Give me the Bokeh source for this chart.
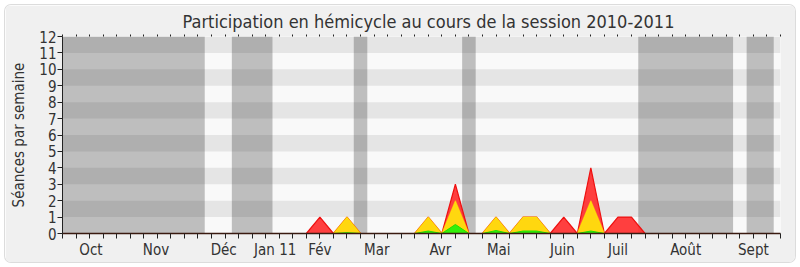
from bokeh.plotting import figure
from bokeh.models import Range1d, FixedTicker, LinearAxis, Title
from bokeh.embed import file_html
from bokeh.resources import INLINE

# ---- data ----
weeks = list(range(0, 53))
n = len(weeks)
presences = [0] * n      # red
participations = [0] * n # yellow
interventions = [0] * n  # green
_red = {19: 1, 21: 1, 27: 1, 29: 3, 32: 1, 34: 1, 35: 1, 37: 1, 39: 4, 41: 1, 42: 1}
_yel = {21: 1, 27: 1, 29: 2, 32: 1, 34: 1, 35: 1, 39: 2}
_grn = {21: 0.05, 27: 0.15, 29: 0.55, 32: 0.18, 34: 0.15, 35: 0.15, 39: 0.15}
for k, v in _red.items():
    presences[k] = v
for k, v in _yel.items():
    participations[k] = v
for k, v in _grn.items():
    interventions[k] = v

vacation_start = [0, 13, 22, 30, 43, 51]
vacation_end = [10, 15, 22, 30, 49, 52]

month_labels = ["Oct", "Nov", "Déc", "Jan 11", "Fév", "Mar", "Avr", "Mai",
                "Juin", "Juil", "Août", "Sept"]
month_pos = [2.1, 6.9, 11.9, 15.7, 19.0, 23.2, 27.9, 32.2, 36.9, 41.0, 46.0, 51.0]

y_max = 12
title = "Participation en hémicycle au cours de la session 2010-2011"
y_label = "Séances par semaine"

FONT = "'DejaVu Sans Condensed', 'DejaVu Sans'"
TXT = "#333333"

p = figure(width=790, height=257, output_backend="svg", toolbar_location=None,
           x_range=Range1d(0, 53), y_range=Range1d(0, y_max),
           margin=(5, 5, 5, 5),
           min_border_left=57, min_border_right=15, min_border_top=31,
           min_border_bottom=29,
           background_fill_color="#f9f9f9", border_fill_color="#f0f0f0",
           x_axis_location=None, y_axis_location=None)
p.styles = {"border-radius": "6px", "overflow": "hidden",
            "box-shadow": "0 0 0 1px #dcdcdc"}
p.outline_line_color = None
p.grid.visible = False

# top tick marks (closest to frame)
top = LinearAxis(ticker=FixedTicker(ticks=[], minor_ticks=weeks + [53]))
top.major_label_text_font_size = "0px"
top.major_label_standoff = 0
top.minor_tick_out = 2
top.minor_tick_in = 0
top.major_tick_out = 0
top.minor_tick_line_color = "#222222"
top.axis_line_color = None
top.major_tick_line_color = None
p.add_layout(top, "above")

t = Title(text=title, text_font=FONT, text_font_size="18px", text_color=TXT,
          text_font_style="normal", align="left", offset=120, standoff=5)
p.add_layout(t, "above")

# horizontal stripes
stripe_b = [v for v in range(1, y_max, 2)]
stripe_t = [v + 1 for v in stripe_b]
p.quad(left=0, right=53, bottom=stripe_b, top=stripe_t, fill_color="#e5e5e5",
       line_color=None)

# vacations overlay
p.quad(left=[s - 0.5 for s in vacation_start], right=[e + 0.5 for e in vacation_end],
       bottom=0, top=y_max, fill_color="black", fill_alpha=0.235, line_color=None)

# areas
p.varea(x=weeks, y1=0, y2=presences, fill_color="#ff2a2a", fill_alpha=0.9)
p.line(weeks, presences, line_color="#ee1111", line_width=1.2)
p.varea(x=weeks, y1=0, y2=participations, fill_color="#ffd70f")
p.line(weeks, participations, line_color="#ffee00", line_width=1.2, line_alpha=0.55)
p.varea(x=weeks, y1=0, y2=interventions, fill_color="#33f00a")
p.line(weeks, interventions, line_color="#22dd00", line_width=1)

# axes
yax = LinearAxis(ticker=FixedTicker(ticks=list(range(0, y_max + 1))))
yax.axis_label = y_label
yax.axis_label_text_font = FONT
yax.axis_label_text_font_size = "15px"
yax.axis_label_text_font_style = "normal"
yax.axis_label_text_color = TXT
yax.axis_label_standoff = 8
yax.major_label_text_font = FONT
yax.major_label_text_font_size = "15px"
yax.major_label_text_color = TXT
yax.major_label_standoff = 1
yax.major_tick_out = 5
yax.major_tick_in = 0
yax.minor_tick_out = 0
yax.axis_line_color = "#222222"
yax.major_tick_line_color = "#222222"
p.add_layout(yax, "left")

xax = LinearAxis(ticker=FixedTicker(ticks=month_pos, minor_ticks=weeks + [53]))
xax.major_label_overrides = {pos: lab for pos, lab in zip(month_pos, month_labels)}
xax.major_label_text_font = FONT
xax.major_label_text_font_size = "15px"
xax.major_label_text_color = TXT
xax.major_label_standoff = 2
xax.major_tick_out = 0
xax.major_tick_in = 0
xax.minor_tick_out = 5
xax.minor_tick_in = 0
xax.minor_tick_line_color = "#222222"
xax.axis_line_color = "#3a1a10"
xax.axis_line_width = 1.5
p.add_layout(xax, "below")

open("out.html", "w").write(file_html(p, INLINE))
